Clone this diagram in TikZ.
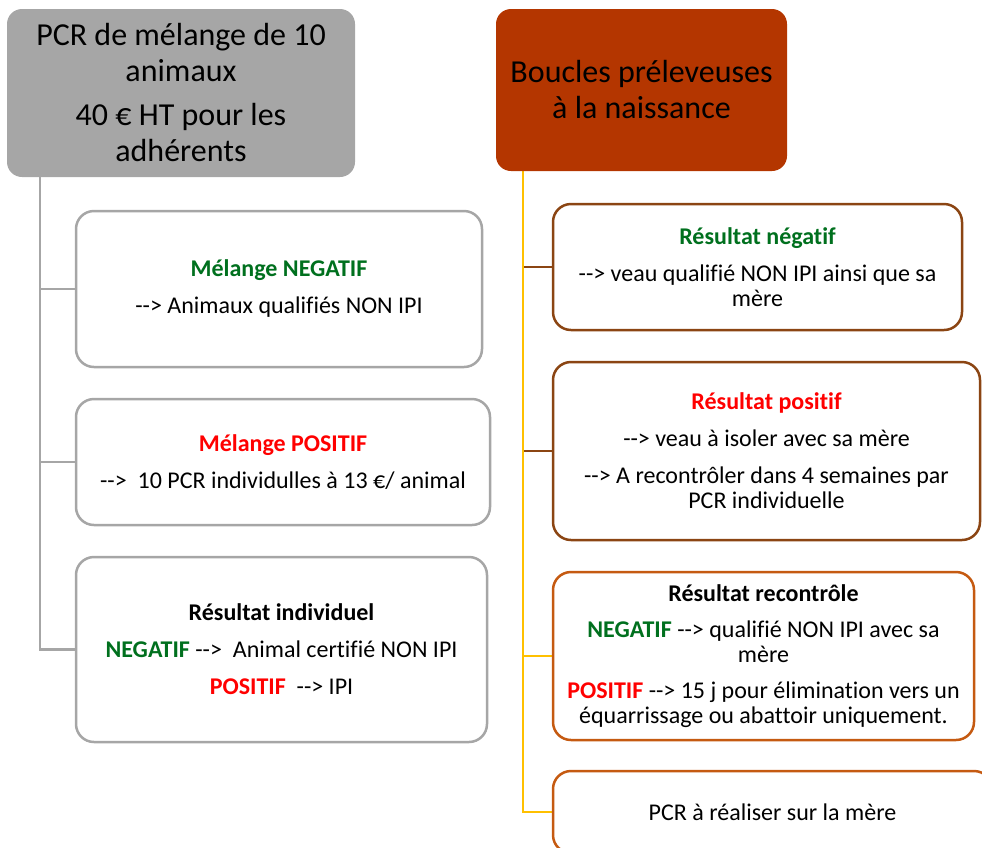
\documentclass[tikz,border=0pt]{standalone}
\usepackage{fontspec}
\setmainfont{Carlito}[Ligatures=CommonOff]
\usetikzlibrary{backgrounds}
\definecolor{boxgray}{HTML}{A6A6A6}
\definecolor{rust}{HTML}{B43600}
\definecolor{lineyel}{HTML}{FFC000}
\definecolor{brownln}{HTML}{8B4513}
\definecolor{orgln}{HTML}{C55A11}
\definecolor{vgreen}{RGB}{0,112,30}
\definecolor{vred}{RGB}{255,0,0}
\newcommand\myarr{-{}->}
\tikzset{
  headbox/.style={rectangle, rounded corners=15pt, align=center, inner sep=0pt,
    font=\fontsize{32}{36}\selectfont},
  leafbox/.style={rectangle, rounded corners=18pt, draw, line width=2.5pt, fill=white,
    align=center, inner sep=0pt, font=\fontsize{24}{25}\selectfont},
  gline/.style={draw=boxgray, line width=2.5pt},
  yline/.style={draw=lineyel, line width=2.5pt},
  bline/.style={draw=brownln, line width=2.5pt},
}
\begin{document}
\begin{tikzpicture}[x=1pt,y=-1pt]
\useasboundingbox (0,0) rectangle (982,847);
\clip (0,0) rectangle (982,847);
% heads
\node[headbox, fill=boxgray, minimum width=348pt, minimum height=168pt] (gray) at (181,93)
  {PCR de mélange de 10\\animaux\\[8pt]40 € HT pour les\\adhérents};
\node[headbox, fill=rust, minimum width=291pt, minimum height=162pt] (rustbox) at (641.5,90)
  {Boucles préleveuses\\à la naissance};
% left leaves
\node[leafbox, draw=boxgray, minimum width=406pt, minimum height=156pt] (L1) at (279,289)
  {{\bfseries\color{vgreen}Mélange NEGATIF}\\[12pt]\myarr{} Animaux qualifiés NON IPI};
\node[leafbox, draw=boxgray, minimum width=414pt, minimum height=126pt] (L2) at (283,462)
  {{\bfseries\color{vred}Mélange POSITIF}\\[12pt]\myarr\ \ 10 PCR individulles à 13 €/ animal};
\node[leafbox, draw=boxgray, minimum width=411pt, minimum height=185pt] (L3) at (281.5,649.5)
  {{\bfseries Résultat individuel}\\[12pt]{\bfseries\color{vgreen}NEGATIF} \myarr\ \ Animal certifié NON IPI\\[12pt]{\bfseries\color{vred}POSITIF}\ \ \myarr{} IPI};
% right leaves
\node[leafbox, draw=brownln, minimum width=409pt, minimum height=126pt] (R1) at (757.5,267)
  {{\bfseries\color{vgreen}Résultat négatif}\\[12pt]\myarr{} veau qualifié NON IPI ainsi que sa\\mère};
\node[leafbox, draw=brownln, minimum width=427pt, minimum height=178pt] (R2) at (766.5,451)
  {{\bfseries\color{vred}Résultat positif}\\[12pt]\myarr{} veau à isoler avec sa mère\\[12pt]\myarr{} A recontrôler dans 4 semaines par\\PCR individuelle};
\node[leafbox, draw=orgln, minimum width=421pt, minimum height=168pt] (R3) at (763.5,656)
  {{\bfseries Résultat recontrôle}\\[11pt]{\bfseries\color{vgreen}NEGATIF} \myarr{} qualifié NON IPI avec sa\\mère\\[11pt]{\bfseries\color{vred}POSITIF} \myarr{} 15 j pour élimination vers un\\équarrissage ou abattoir uniquement.};
\node[leafbox, draw=orgln, minimum width=439pt, minimum height=82pt] (R4) at (772.5,812)
  {PCR à réaliser sur la mère};
% connectors
\begin{scope}[on background layer]
\coordinate (gtop) at ([xshift=33pt]gray.south west);
\coordinate (ytop) at ([xshift=27pt]rustbox.south west);
\draw[gline] (gtop) |- (L3.west);
\draw[gline] (L1.west) -- (L1.west -| gtop);
\draw[gline] (L2.west) -- (L2.west -| gtop);
\draw[yline] (ytop) |- (R4.west);
\draw[yline] (R3.west) -- (R3.west -| ytop);
\draw[bline] (R1.west) -- ([xshift=1.25pt]R1.west -| ytop);
\draw[bline] (R2.west) -- ([xshift=1.25pt]R2.west -| ytop);
\end{scope}
\end{tikzpicture}
\end{document}
